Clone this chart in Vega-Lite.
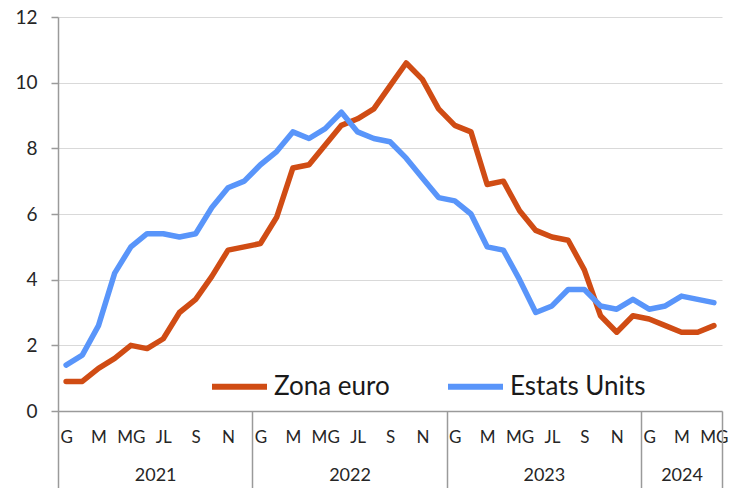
{
  "$schema": "https://vega.github.io/schema/vega-lite/v6.json",
  "width": 664,
  "height": 394,
  "autosize": {"type": "none"},
  "padding": {"left": 58, "top": 17, "right": 8, "bottom": 77},
  "background": "white",
  "config": {
    "view": {"stroke": null},
    "font": "Lato",
    "axis": {"labelFont": "Lato", "labelColor": "#262626"},
    "legend": {"labelFont": "Lato"}
  },
  "datasets": {
    "inflacio": [
      {"mes": "2021-01", "i": 0, "serie": "Zona euro", "valor": 0.9},
      {"mes": "2021-02", "i": 1, "serie": "Zona euro", "valor": 0.9},
      {"mes": "2021-03", "i": 2, "serie": "Zona euro", "valor": 1.3},
      {"mes": "2021-04", "i": 3, "serie": "Zona euro", "valor": 1.6},
      {"mes": "2021-05", "i": 4, "serie": "Zona euro", "valor": 2.0},
      {"mes": "2021-06", "i": 5, "serie": "Zona euro", "valor": 1.9},
      {"mes": "2021-07", "i": 6, "serie": "Zona euro", "valor": 2.2},
      {"mes": "2021-08", "i": 7, "serie": "Zona euro", "valor": 3.0},
      {"mes": "2021-09", "i": 8, "serie": "Zona euro", "valor": 3.4},
      {"mes": "2021-10", "i": 9, "serie": "Zona euro", "valor": 4.1},
      {"mes": "2021-11", "i": 10, "serie": "Zona euro", "valor": 4.9},
      {"mes": "2021-12", "i": 11, "serie": "Zona euro", "valor": 5.0},
      {"mes": "2022-01", "i": 12, "serie": "Zona euro", "valor": 5.1},
      {"mes": "2022-02", "i": 13, "serie": "Zona euro", "valor": 5.9},
      {"mes": "2022-03", "i": 14, "serie": "Zona euro", "valor": 7.4},
      {"mes": "2022-04", "i": 15, "serie": "Zona euro", "valor": 7.5},
      {"mes": "2022-05", "i": 16, "serie": "Zona euro", "valor": 8.1},
      {"mes": "2022-06", "i": 17, "serie": "Zona euro", "valor": 8.7},
      {"mes": "2022-07", "i": 18, "serie": "Zona euro", "valor": 8.9},
      {"mes": "2022-08", "i": 19, "serie": "Zona euro", "valor": 9.2},
      {"mes": "2022-09", "i": 20, "serie": "Zona euro", "valor": 9.9},
      {"mes": "2022-10", "i": 21, "serie": "Zona euro", "valor": 10.6},
      {"mes": "2022-11", "i": 22, "serie": "Zona euro", "valor": 10.1},
      {"mes": "2022-12", "i": 23, "serie": "Zona euro", "valor": 9.2},
      {"mes": "2023-01", "i": 24, "serie": "Zona euro", "valor": 8.7},
      {"mes": "2023-02", "i": 25, "serie": "Zona euro", "valor": 8.5},
      {"mes": "2023-03", "i": 26, "serie": "Zona euro", "valor": 6.9},
      {"mes": "2023-04", "i": 27, "serie": "Zona euro", "valor": 7.0},
      {"mes": "2023-05", "i": 28, "serie": "Zona euro", "valor": 6.1},
      {"mes": "2023-06", "i": 29, "serie": "Zona euro", "valor": 5.5},
      {"mes": "2023-07", "i": 30, "serie": "Zona euro", "valor": 5.3},
      {"mes": "2023-08", "i": 31, "serie": "Zona euro", "valor": 5.2},
      {"mes": "2023-09", "i": 32, "serie": "Zona euro", "valor": 4.3},
      {"mes": "2023-10", "i": 33, "serie": "Zona euro", "valor": 2.9},
      {"mes": "2023-11", "i": 34, "serie": "Zona euro", "valor": 2.4},
      {"mes": "2023-12", "i": 35, "serie": "Zona euro", "valor": 2.9},
      {"mes": "2024-01", "i": 36, "serie": "Zona euro", "valor": 2.8},
      {"mes": "2024-02", "i": 37, "serie": "Zona euro", "valor": 2.6},
      {"mes": "2024-03", "i": 38, "serie": "Zona euro", "valor": 2.4},
      {"mes": "2024-04", "i": 39, "serie": "Zona euro", "valor": 2.4},
      {"mes": "2024-05", "i": 40, "serie": "Zona euro", "valor": 2.6},
      {"mes": "2021-01", "i": 0, "serie": "Estats Units", "valor": 1.4},
      {"mes": "2021-02", "i": 1, "serie": "Estats Units", "valor": 1.7},
      {"mes": "2021-03", "i": 2, "serie": "Estats Units", "valor": 2.6},
      {"mes": "2021-04", "i": 3, "serie": "Estats Units", "valor": 4.2},
      {"mes": "2021-05", "i": 4, "serie": "Estats Units", "valor": 5.0},
      {"mes": "2021-06", "i": 5, "serie": "Estats Units", "valor": 5.4},
      {"mes": "2021-07", "i": 6, "serie": "Estats Units", "valor": 5.4},
      {"mes": "2021-08", "i": 7, "serie": "Estats Units", "valor": 5.3},
      {"mes": "2021-09", "i": 8, "serie": "Estats Units", "valor": 5.4},
      {"mes": "2021-10", "i": 9, "serie": "Estats Units", "valor": 6.2},
      {"mes": "2021-11", "i": 10, "serie": "Estats Units", "valor": 6.8},
      {"mes": "2021-12", "i": 11, "serie": "Estats Units", "valor": 7.0},
      {"mes": "2022-01", "i": 12, "serie": "Estats Units", "valor": 7.5},
      {"mes": "2022-02", "i": 13, "serie": "Estats Units", "valor": 7.9},
      {"mes": "2022-03", "i": 14, "serie": "Estats Units", "valor": 8.5},
      {"mes": "2022-04", "i": 15, "serie": "Estats Units", "valor": 8.3},
      {"mes": "2022-05", "i": 16, "serie": "Estats Units", "valor": 8.6},
      {"mes": "2022-06", "i": 17, "serie": "Estats Units", "valor": 9.1},
      {"mes": "2022-07", "i": 18, "serie": "Estats Units", "valor": 8.5},
      {"mes": "2022-08", "i": 19, "serie": "Estats Units", "valor": 8.3},
      {"mes": "2022-09", "i": 20, "serie": "Estats Units", "valor": 8.2},
      {"mes": "2022-10", "i": 21, "serie": "Estats Units", "valor": 7.7},
      {"mes": "2022-11", "i": 22, "serie": "Estats Units", "valor": 7.1},
      {"mes": "2022-12", "i": 23, "serie": "Estats Units", "valor": 6.5},
      {"mes": "2023-01", "i": 24, "serie": "Estats Units", "valor": 6.4},
      {"mes": "2023-02", "i": 25, "serie": "Estats Units", "valor": 6.0},
      {"mes": "2023-03", "i": 26, "serie": "Estats Units", "valor": 5.0},
      {"mes": "2023-04", "i": 27, "serie": "Estats Units", "valor": 4.9},
      {"mes": "2023-05", "i": 28, "serie": "Estats Units", "valor": 4.0},
      {"mes": "2023-06", "i": 29, "serie": "Estats Units", "valor": 3.0},
      {"mes": "2023-07", "i": 30, "serie": "Estats Units", "valor": 3.2},
      {"mes": "2023-08", "i": 31, "serie": "Estats Units", "valor": 3.7},
      {"mes": "2023-09", "i": 32, "serie": "Estats Units", "valor": 3.7},
      {"mes": "2023-10", "i": 33, "serie": "Estats Units", "valor": 3.2},
      {"mes": "2023-11", "i": 34, "serie": "Estats Units", "valor": 3.1},
      {"mes": "2023-12", "i": 35, "serie": "Estats Units", "valor": 3.4},
      {"mes": "2024-01", "i": 36, "serie": "Estats Units", "valor": 3.1},
      {"mes": "2024-02", "i": 37, "serie": "Estats Units", "valor": 3.2},
      {"mes": "2024-03", "i": 38, "serie": "Estats Units", "valor": 3.5},
      {"mes": "2024-04", "i": 39, "serie": "Estats Units", "valor": 3.4},
      {"mes": "2024-05", "i": 40, "serie": "Estats Units", "valor": 3.3}
    ]
  },
  "data": {"name": "inflacio"},
  "resolve": {"axis": {"x": "independent"}},
  "layer": [
    {
      "transform": [{"filter": "datum.serie === 'Zona euro'"}],
      "mark": {"type": "line", "strokeWidth": 5.5, "strokeJoin": "round", "strokeCap": "round"},
      "encoding": {
        "x": {
          "field": "i", "type": "quantitative",
          "scale": {"domain": [-0.5, 40.5], "nice": false, "zero": false},
          "axis": {
            "title": null,
            "values": [0, 2, 4, 6, 8, 10, 12, 14, 16, 18, 20, 22, 24, 26, 28, 30, 32, 34, 36, 38, 40],
            "labelExpr": "['G','F','M','A','MG','JN','JL','AG','S','O','N','D'][datum.value % 12]",
            "labelFontSize": 17,
            "labelPadding": 18,
            "labelFlush": false,
            "labelOverlap": false,
            "labelBound": false,
            "ticks": false,
            "grid": false,
            "domain": true,
            "domainColor": "#9a9a9a",
            "domainWidth": 1.5
          }
        },
        "y": {
          "field": "valor", "type": "quantitative",
          "scale": {"domain": [0, 12], "nice": false},
          "axis": {
            "title": null,
            "values": [0, 2, 4, 6, 8, 10, 12],
            "labelFontSize": 19,
            "labelPadding": 14,
            "tickSize": 7,
            "tickColor": "#9a9a9a",
            "tickWidth": 1.5,
            "domainColor": "#9a9a9a",
            "domainWidth": 1.5,
            "grid": true,
            "gridColor": "#d9d9d9",
            "gridWidth": 1.2
          }
        },
        "color": {
          "field": "serie", "type": "nominal",
          "scale": {"domain": ["Zona euro", "Estats Units"], "range": ["#D04C14", "#5995FA"]},
          "legend": {
            "title": null,
            "orient": "none",
            "legendX": 151,
            "legendY": 339,
            "direction": "horizontal",
            "symbolType": "stroke",
            "symbolSize": 3025,
            "symbolStrokeWidth": 6,
            "labelFontSize": 26,
            "labelColor": "#1a1a1a",
            "labelOffset": 4,
            "labelLimit": 300,
            "columnPadding": 46
          }
        }
      }
    },
    {
      "transform": [{"filter": "datum.serie === 'Estats Units'"}],
      "mark": {"type": "line", "strokeWidth": 5.5, "strokeJoin": "round", "strokeCap": "round"},
      "encoding": {
        "x": {
          "field": "i", "type": "quantitative",
          "axis": {
            "title": null,
            "orient": "bottom",
            "values": [5.5, 17.5, 29.5, 38],
            "labelExpr": "'' + (2021 + floor(datum.value / 12))",
            "labelFontSize": 18,
            "labelPadding": 55,
            "labelFlush": false,
            "labelOverlap": false,
            "ticks": false,
            "grid": false,
            "domain": false
          }
        },
        "y": {"field": "valor", "type": "quantitative"},
        "color": {"field": "serie", "type": "nominal"}
      }
    },
    {
      "mark": {"type": "line", "strokeOpacity": 0},
      "encoding": {
        "x": {
          "field": "i", "type": "quantitative",
          "axis": {
            "title": null,
            "orient": "bottom",
            "values": [-0.5, 11.5, 23.5, 35.5, 40.5],
            "labels": false,
            "ticks": true,
            "tickSize": 77,
            "tickColor": "#9a9a9a",
            "tickWidth": 1.5,
            "grid": false,
            "domain": false
          }
        },
        "y": {"field": "valor", "type": "quantitative"},
        "detail": {"field": "serie", "type": "nominal"}
      }
    }
  ]
}
